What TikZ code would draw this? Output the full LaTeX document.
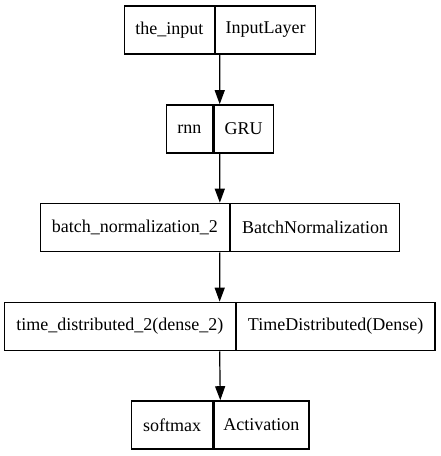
\documentclass[tikz,border=0pt]{standalone}
\usepackage{fontspec}
\setmainfont{Liberation Serif}
\usetikzlibrary{arrows.meta,positioning,fit}

\begin{document}
\begin{tikzpicture}[x=1pt,y=-1pt,
  part/.style={draw=black,line width=1.2pt,minimum height=48pt,inner xsep=3pt,
    font=\fontsize{18}{21}\selectfont},
  flow/.style={draw=black,line width=1.2pt,-{Triangle[length=14pt,width=10pt]}}]
\useasboundingbox (0,0) rectangle (440,456);
% the layers: name, left width, type, right width, divider, centre
\foreach \n/\lname/\lw/\ltype/\rw/\dx/\y in {
  input/the\_input/90.3/InputLayer/100/215/30,
  rnn/rnn/46.6/GRU/59.4/213.3/129,
  bn/batch\_normalization\_2/189.3/BatchNormalization/169/230/227.5,
  td/time\_distributed\_2(dense\_2)/230.7/TimeDistributed(Dense)/198.6/235.7/326.5,
  softmax/softmax/81/Activation/95/213.3/425}
{
  \node[part,anchor=east,minimum width=\lw pt] (\n-name) at (\dx,\y) {\lname};
  \node[part,anchor=west,minimum width=\rw pt] (\n-type) at (\dx,\y) {\ltype};
  \node[fit=(\n-name)(\n-type),inner sep=0pt] (\n) {};
}
% the connections
\foreach \a/\b in {input/rnn,rnn/bn,bn/td,td/softmax}
  \draw[flow] (\a.south) -- (\b.north);
\end{tikzpicture}
\end{document}
